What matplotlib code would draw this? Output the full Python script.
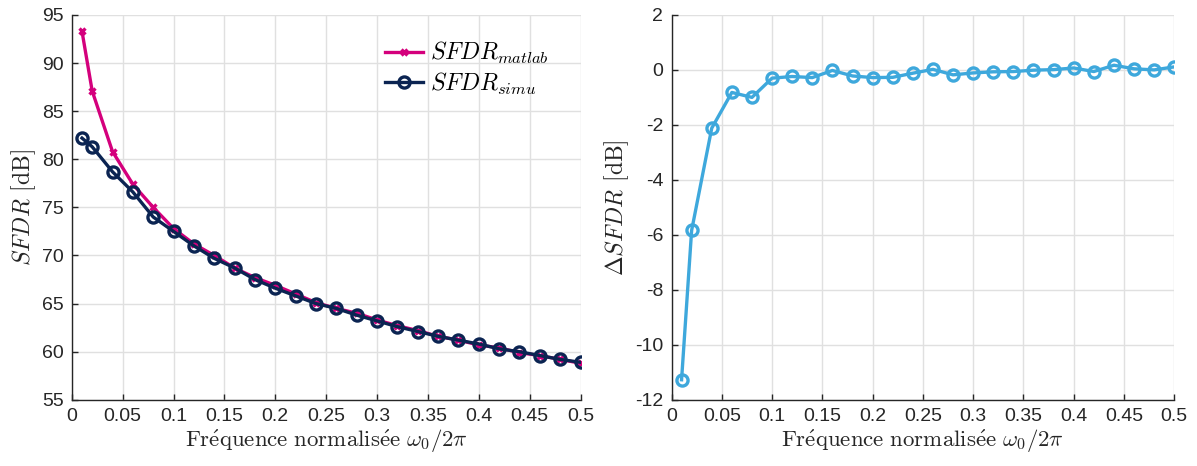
import matplotlib
matplotlib.use("Agg")
import matplotlib.pyplot as plt

# Normalised frequency (w0 / 2pi)
freq = [0.01, 0.02, 0.04, 0.06, 0.08, 0.10, 0.12, 0.14, 0.16, 0.18, 0.20,
        0.22, 0.24, 0.26, 0.28, 0.30, 0.32, 0.34, 0.36, 0.38, 0.40, 0.42,
        0.44, 0.46, 0.48, 0.50]

sfdr_matlab = [93.3, 87.1, 80.8, 77.4, 75.0, 72.8, 71.2, 70.0, 68.7, 67.7, 66.9,
               66.0, 65.1, 64.5, 64.0, 63.3, 62.7, 62.2, 61.6, 61.2, 60.7, 60.4,
               59.9, 59.6, 59.2, 58.8]

sfdr_simu = [82.2, 81.3, 78.7, 76.6, 74.0, 72.5, 71.0, 69.7, 68.7, 67.5, 66.6,
             65.8, 65.0, 64.5, 63.8, 63.2, 62.6, 62.1, 61.6, 61.2, 60.8, 60.3,
             60.0, 59.6, 59.2, 58.9]

delta_sfdr = [-11.27, -5.84, -2.12, -0.82, -1.0, -0.3, -0.24, -0.28, -0.02, -0.22, -0.28,
              -0.27, -0.12, 0.02, -0.18, -0.11, -0.07, -0.06, -0.01, 0.01, 0.07, -0.06,
              0.17, 0.04, 0.0, 0.11]

x_ticks = [0, 0.05, 0.1, 0.15, 0.2, 0.25, 0.3, 0.35, 0.4, 0.45, 0.5]
x_ticklabels = ["0", "0.05", "0.1", "0.15", "0.2", "0.25", "0.3", "0.35", "0.4", "0.45", "0.5"]

MAGENTA = "#d4007c"
NAVY = "#0b2452"
LIGHT_BLUE = "#3ea8dc"
SERIF = ["cmr10", "DejaVu Serif"]
XLABEL = r"$\mathrm{Fr\acute{e}quence\ normalis\acute{e}e}\ \omega_0/2\pi$"

plt.rcParams["mathtext.fontset"] = "cm"
plt.rcParams["font.family"] = ["Liberation Sans", "DejaVu Sans"]
plt.rcParams["axes.unicode_minus"] = False

fig = plt.figure(figsize=(11.97, 4.66), dpi=100)
ax1 = fig.add_axes([0.060, 0.142, 0.425, 0.826])
ax2 = fig.add_axes([0.561, 0.142, 0.420, 0.826])


def style_axes(ax):
    ax.grid(True, color="#e0e0e0", linewidth=1.0)
    ax.set_axisbelow(True)
    for side in ("top", "right"):
        ax.spines[side].set_visible(False)
    for side in ("left", "bottom"):
        ax.spines[side].set_color("#262626")
        ax.spines[side].set_linewidth(1.0)
    ax.tick_params(direction="in", length=4, width=1.0, colors="#262626",
                   labelsize=14, pad=6)
    ax.set_xlim(0, 0.5)
    ax.set_xticks(x_ticks)
    ax.set_xticklabels(x_ticklabels)
    ax.set_xlabel(XLABEL, fontsize=16.5, color="#262626", labelpad=2)


# Left: SFDR curves
ax1.plot(freq, sfdr_matlab, color=MAGENTA, linewidth=2.4, marker="x",
         markersize=5, markeredgewidth=2.4, label=r"$SFDR_{matlab}$")
ax1.plot(freq, sfdr_simu, color=NAVY, linewidth=2.4, marker="o",
         markersize=8, markerfacecolor="none", markeredgewidth=2.4,
         label=r"$SFDR_{simu}$")
style_axes(ax1)
ax1.set_ylim(55, 95)
ax1.set_yticks(range(55, 96, 5))
ax1.set_ylabel(r"$SFDR$ [dB]", fontsize=17, family=SERIF, color="#262626", labelpad=3)
ax1.legend(loc="upper right", bbox_to_anchor=(0.98, 0.99), frameon=False,
           fontsize=17, handlelength=1.6, handletextpad=0.3, labelspacing=0.2)

# Right: difference
ax2.plot(freq, delta_sfdr, color=LIGHT_BLUE, linewidth=2.4, marker="o",
         markersize=8, markerfacecolor="none", markeredgewidth=2.4)
style_axes(ax2)
ax2.set_ylim(-12, 2)
ax2.set_yticks(range(-12, 3, 2))
ax2.set_ylabel(r"$\Delta SFDR$ [dB]", fontsize=17, family=SERIF, color="#262626", labelpad=3)

fig.savefig("out.png", dpi=100)
